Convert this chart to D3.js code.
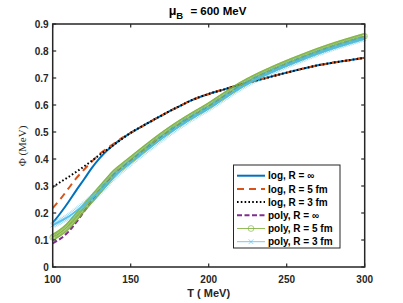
<!DOCTYPE html>
<html><head><meta charset="utf-8">
<script src="https://cdn.jsdelivr.net/npm/d3@7"></script>
<style>body{margin:0;background:#fff}svg{display:block}</style>
</head><body>
<svg id="c" width="403" height="303"></svg>
<script>
const temps = [100,105,110,115,120,125,130,135,140,145,150,160,170,180,190,200,210,220,230,240,250,260,270,280,290,300];
const logInf = [0.163,0.200,0.240,0.283,0.324,0.366,0.402,0.432,0.457,0.478,0.497,0.530,0.562,0.592,0.620,0.641,0.658,0.675,0.690,0.705,0.720,0.734,0.747,0.757,0.766,0.775];
const log5 = [0.218,0.252,0.290,0.328,0.360,0.390,0.418,0.440,0.460,0.480,0.497,0.530,0.562,0.592,0.620,0.641,0.658,0.675,0.690,0.705,0.720,0.734,0.747,0.757,0.766,0.775];
const log3 = [0.296,0.315,0.333,0.352,0.372,0.393,0.415,0.435,0.456,0.477,0.497,0.530,0.562,0.592,0.620,0.641,0.658,0.675,0.690,0.705,0.720,0.734,0.747,0.757,0.766,0.775];
const polyInf = [0.088,0.105,0.130,0.165,0.205,0.245,0.283,0.316,0.348,0.372,0.395,0.441,0.485,0.525,0.561,0.595,0.633,0.670,0.701,0.728,0.753,0.776,0.798,0.818,0.836,0.853];
const poly5 = [0.110,0.128,0.152,0.185,0.219,0.252,0.285,0.318,0.350,0.374,0.397,0.443,0.487,0.527,0.563,0.597,0.635,0.672,0.703,0.730,0.755,0.778,0.800,0.820,0.838,0.855];
const poly3 = [0.155,0.170,0.186,0.207,0.230,0.253,0.280,0.310,0.340,0.364,0.388,0.433,0.477,0.518,0.555,0.589,0.627,0.664,0.695,0.722,0.747,0.770,0.792,0.812,0.830,0.847];
const xTicks = [100,150,200,250,300];
const yTicks = [0,0.1,0.2,0.3,0.4,0.5,0.6,0.7,0.8,0.9];
const legendLabels = ["log, R = \u221E","log, R = 5 fm","log, R = 3 fm","poly, R = \u221E","poly, R = 5 fm","poly, R = 3 fm"];

const svg = d3.select("#c");
const L=52.7, R=364.7, T=24, B=267;
const x = d3.scaleLinear().domain([100,300]).range([L,R]);
const y = d3.scaleLinear().domain([0,0.9]).range([B,T]);
const axisCol = "#262626";
const tickFont = "bold 10px 'Liberation Sans', Arial, sans-serif";

const styles = [
  {color:"#0072BD", w:2, dash:null},
  {color:"#D95319", w:2, dash:"7,5"},
  {color:"#000000", w:2, dash:"1.6,2.2"},
  {color:"#7E2F8E", w:2, dash:"5,2.5"},
  {color:"#77AC30", w:0.8, dash:null, marker:"o"},
  {color:"#4DBEEE", w:0.8, dash:null, marker:"x"}
];
const series = [logInf, log5, log3, polyInf, poly5, poly3];

const line = d3.line().x((d,i)=>x(temps[i])).y(d=>y(d)).curve(d3.curveMonotoneX);
const g = svg.append("g");

function drawMarker(sel, type, px, py, col){
  if(type==="o"){
    sel.append("circle").attr("cx",px).attr("cy",py).attr("r",2.9)
      .attr("fill","none").attr("stroke",col).attr("stroke-width",0.6);
  } else {
    const s=2.4;
    sel.append("path").attr("d",`M${px-s},${py-s}L${px+s},${py+s}M${px-s},${py+s}L${px+s},${py-s}`)
      .attr("stroke",col).attr("stroke-width",0.6).attr("fill","none");
  }
}

series.forEach((vals,k)=>{
  const st = styles[k];
  const p = g.append("path").datum(vals).attr("d",line)
    .attr("fill","none").attr("stroke",st.color).attr("stroke-width",st.w)
    .attr("stroke-dasharray",st.dash);
  if(st.marker){
    const node=p.node(), len=node.getTotalLength();
    const mg=g.append("g");
    for(let s=0;s<=len;s+=1.3){
      const pt=node.getPointAtLength(s);
      drawMarker(mg, st.marker, pt.x, pt.y, st.color);
    }
  }
});

// axes box
svg.append("rect").attr("x",L).attr("y",T).attr("width",R-L).attr("height",B-T)
  .attr("fill","none").attr("stroke",axisCol).attr("stroke-width",1.5);
// ticks
xTicks.forEach(v=>{
  svg.append("line").attr("x1",x(v)).attr("x2",x(v)).attr("y1",B).attr("y2",B-3.5).attr("stroke",axisCol).attr("stroke-width",1.2);
  svg.append("line").attr("x1",x(v)).attr("x2",x(v)).attr("y1",T).attr("y2",T+3.5).attr("stroke",axisCol).attr("stroke-width",1.2);
  svg.append("text").attr("x",x(v)).attr("y",283).attr("text-anchor","middle")
    .style("font",tickFont).attr("fill","#262626").text(v);
});
yTicks.forEach(v=>{
  svg.append("line").attr("x1",L).attr("x2",L+3.5).attr("y1",y(v)).attr("y2",y(v)).attr("stroke",axisCol).attr("stroke-width",1.2);
  svg.append("line").attr("x1",R).attr("x2",R-3.5).attr("y1",y(v)).attr("y2",y(v)).attr("stroke",axisCol).attr("stroke-width",1.2);
  svg.append("text").attr("x",L-4).attr("y",y(v)+3.5).attr("text-anchor","end")
    .style("font",tickFont).attr("fill","#262626").text(v===0?"0":d3.format(".1f")(v));
});

// labels
svg.append("text").attr("x",208.7).attr("y",297).attr("text-anchor","middle")
  .style("font","bold 11px 'Liberation Sans', Arial, sans-serif").attr("fill","#262626").text("T ( MeV)");
svg.append("text").attr("transform","translate(26,146) rotate(-90)").attr("text-anchor","middle")
  .style("font","11px 'Liberation Serif', 'Times New Roman', serif").attr("fill","#262626").text("\u03A6 (MeV)");
const title = svg.append("text").attr("x",207.5).attr("y",15).attr("text-anchor","middle")
  .style("font","bold 11.5px 'Liberation Sans', Arial, sans-serif").attr("fill","#000");
title.append("tspan").style("font-size","12.5px").text("\u03BC");
title.append("tspan").attr("dy",4).style("font-size","9.5px").text("B");
title.append("tspan").attr("dy",-4).attr("dx",4).text(" = 600 MeV");

// legend
const lg = svg.append("g");
lg.append("rect").attr("x",233.5).attr("y",165).attr("width",106.5).attr("height",83)
  .attr("fill","#fff").attr("stroke",axisCol).attr("stroke-width",1);
legendLabels.forEach((lab,k)=>{
  const st=styles[k], yy=175.7+k*13.2;
  lg.append("line").attr("x1",237).attr("x2",265).attr("y1",yy).attr("y2",yy)
    .attr("stroke",st.color).attr("stroke-width",st.w).attr("stroke-dasharray",st.dash);
  if(st.marker) drawMarker(lg, st.marker, 251, yy, st.color);
  lg.append("text").attr("x",268).attr("y",yy+3.6)
    .style("font","bold 10px 'Liberation Sans', Arial, sans-serif").attr("fill","#000").text(lab);
});
</script>
</body></html>
